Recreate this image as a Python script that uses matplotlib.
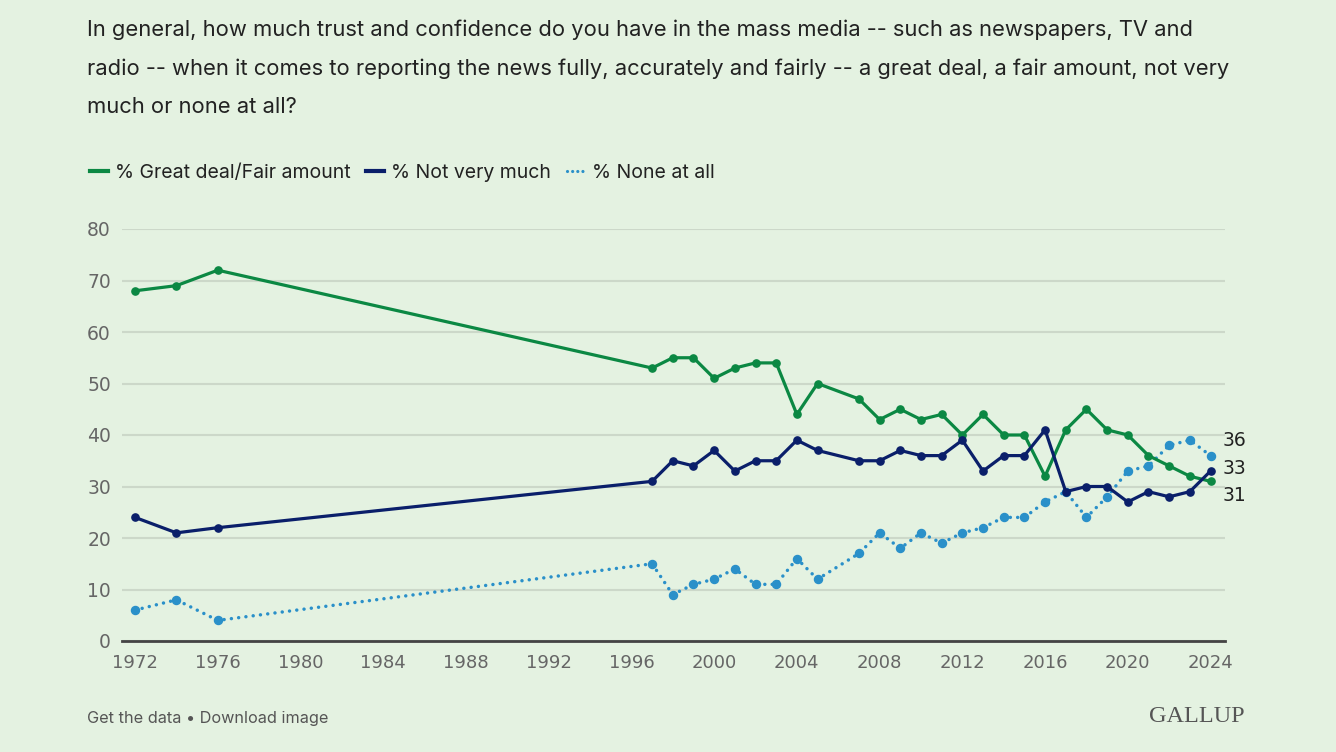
import matplotlib
matplotlib.use("Agg")
import matplotlib.pyplot as plt
from matplotlib.lines import Line2D

years = [1972, 1974, 1976, 1997, 1998, 1999, 2000, 2001, 2002, 2003, 2004, 2005,
         2007, 2008, 2009, 2010, 2011, 2012, 2013, 2014, 2015, 2016, 2017, 2018,
         2019, 2020, 2021, 2022, 2023, 2024]
great_fair = [68, 69, 72, 53, 55, 55, 51, 53, 54, 54, 44, 50,
              47, 43, 45, 43, 44, 40, 44, 40, 40, 32, 41, 45,
              41, 40, 36, 34, 32, 31]
not_very = [24, 21, 22, 31, 35, 34, 37, 33, 35, 35, 39, 37,
            35, 35, 37, 36, 36, 39, 33, 36, 36, 41, 29, 30,
            30, 27, 29, 28, 29, 33]
none_all = [6, 8, 4, 15, 9, 11, 12, 14, 11, 11, 16, 12,
            17, 21, 18, 21, 19, 21, 22, 24, 24, 27, 29, 24,
            28, 33, 34, 38, 39, 36]
series_names = ["% Great deal/Fair amount", "% Not very much", "% None at all"]
x_ticks = list(range(1972, 2025, 4))
y_ticks = list(range(0, 81, 10))

title = ("In general, how much trust and confidence do you have in the mass media -- such as newspapers, TV and\n"
         "radio -- when it comes to reporting the news fully, accurately and fairly -- a great deal, a fair amount, not very\n"
         "much or none at all?")

BG = "#E4F2E1"
GREEN = "#0B8843"
NAVY = "#0A1F6A"
BLUE = "#2A90C9"
FONT = ["Inter", "DejaVu Sans"]
NUMFONT = ["DejaVu Sans"]

fig = plt.figure(figsize=(13.36, 7.52), dpi=100, facecolor=BG)
ax = fig.add_axes([122/1336, 1-641/752, (1225-122)/1336, (641-229)/752])
ax.set_facecolor(BG)

ax.plot(years, great_fair, color=GREEN, lw=2.3, marker="o", ms=5.2, zorder=3, solid_joinstyle="round")
ax.plot(years, not_very, color=NAVY, lw=2.3, marker="o", ms=5.2, zorder=4, solid_joinstyle="round")
ax.plot(years, none_all, color=BLUE, lw=2.5, marker="o", ms=5.8, ls=(0, (0.01, 2.1)),
        dash_capstyle="round", zorder=2)

ax.set_xlim(1971.37, 2024.7)
ax.set_ylim(0, 80)
ax.set_xticks(x_ticks)
ax.set_yticks(y_ticks)
ax.set_xticklabels([str(t) for t in x_ticks], fontsize=13, color="#666666", family=NUMFONT)
ax.set_yticklabels([str(t) for t in y_ticks], fontsize=13.5, color="#666666", family=NUMFONT)
ax.grid(axis="y", color="#CCD8C9", lw=1.5)
ax.set_axisbelow(True)
for s in ["top", "right", "left"]:
    ax.spines[s].set_visible(False)
ax.spines["bottom"].set_color("#444444")
ax.spines["bottom"].set_linewidth(2)
ax.tick_params(axis="y", length=0, pad=8)
ax.tick_params(axis="x", length=0, pad=9.5)

# end labels (spread vertically to avoid overlap, as in the reference)
end_vals = [none_all[-1], not_very[-1], great_fair[-1]]
end_dy = [11, 2, -10]
for val, dy in zip(end_vals, end_dy):
    ax.annotate(str(val), xy=(years[-1], val), xytext=(8.5, dy), textcoords="offset points",
                fontsize=13.5, color="#222222", family=NUMFONT, va="center", ha="left",
                annotation_clip=False)

fig.text(87/1336, 1-20/752, title, fontsize=15.8, color="#222222", family=FONT,
         va="top", ha="left", linespacing=2.1)

handles = [Line2D([0], [0], color=GREEN, lw=3),
           Line2D([0], [0], color=NAVY, lw=3),
           Line2D([0], [0], color=BLUE, lw=2.3, ls=(0, (0.01, 1.6)), dash_capstyle="round")]
leg = fig.legend(handles, series_names, loc="center left", bbox_to_anchor=(72/1336, 1-173/752),
                 ncol=3, frameon=False, handlelength=0.95, handletextpad=0.35,
                 columnspacing=0.8, prop={"family": FONT, "size": 14})
for t in leg.get_texts():
    t.set_color("#222222")

fig.text(87/1336, 1-718/752, "Get the data • Download image", fontsize=11.7, color="#555555",
         family=FONT, va="center", ha="left")
fig.text(1245/1336, 1-717/752, "GALLUP", fontsize=17.5, color="#555555", family="Liberation Serif",
         va="center", ha="right")

fig.savefig("out.png", dpi=100, facecolor=BG)
